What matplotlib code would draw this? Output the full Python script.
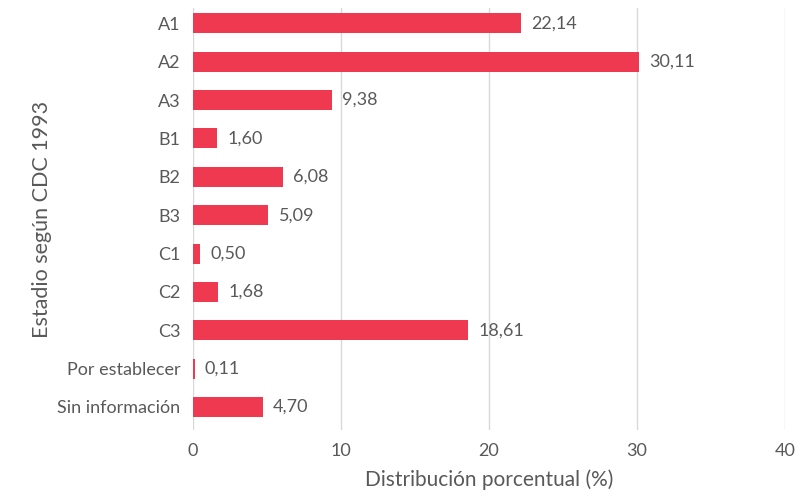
import matplotlib.pyplot as plt

## Data
categories = ['A1', 'A2', 'A3', 'B1', 'B2', 'B3', 'C1', 'C2', 'C3',
              'Por establecer', 'Sin información']
values = [22.14, 30.11, 9.38, 1.60, 6.08, 5.09, 0.50, 1.68, 18.61, 0.11, 4.70]
xticks = [0, 10, 20, 30, 40]

barColor = '#EF3950'
textColor = '#595959'
gridColor = '#D9D9D9'

plt.rcParams['font.family'] = ['Lato', 'DejaVu Sans']

fig = plt.figure(figsize=(7.99, 4.91), dpi=100)
ax = fig.add_axes([193 / 799, 61 / 491, 592 / 799, 422 / 491])

ypos = list(range(len(categories)))
ax.barh(ypos, values, height=0.52, color=barColor, zorder=3)

# Value labels with comma decimals
for y, v in zip(ypos, values):
    ax.text(v + 0.7, y, f'{v:.2f}'.replace('.', ','), va='center', ha='left',
            fontsize=13, color=textColor)

ax.set_ylim(10.6, -0.4)
ax.set_xlim(0, 40)
ax.set_yticks(ypos)
ax.set_yticklabels(categories)
ax.set_xticks(xticks)

ax.tick_params(axis='both', length=0, labelsize=13, labelcolor=textColor)
ax.tick_params(axis='y', pad=9)
ax.tick_params(axis='x', pad=9)

ax.grid(axis='x', color=gridColor, linewidth=1, zorder=0)
for s in ax.spines.values():
    s.set_visible(False)

ax.set_xlabel('Distribución porcentual (%)', fontsize=15, color=textColor, labelpad=8)
ax.set_ylabel('Estadio según CDC 1993', fontsize=15.5, color=textColor, labelpad=4)

fig.savefig('out.png', dpi=100)
